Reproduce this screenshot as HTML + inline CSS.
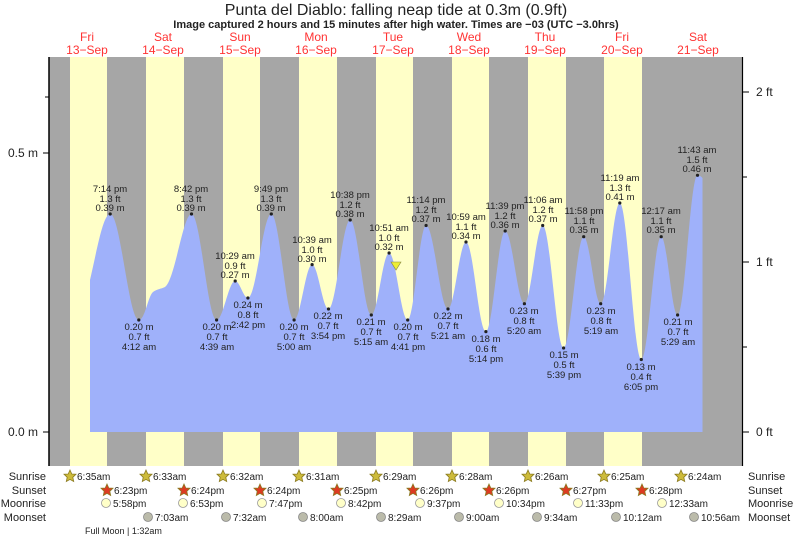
<!DOCTYPE html>
<html><head><meta charset="utf-8"><style>
body{margin:0;background:#fff;}
svg{display:block;font-family:"Liberation Sans",sans-serif;}
</style></head><body>
<svg width="793" height="539" viewBox="0 0 793 539" xmlns="http://www.w3.org/2000/svg">
<text x="396" y="15" font-size="16" text-anchor="middle" fill="#222">Punta del Diablo: falling  neap tide at 0.3m (0.9ft)</text>
<text x="396" y="28" font-size="11" font-weight="bold" text-anchor="middle" fill="#222">Image captured 2 hours and 15 minutes after high water. Times are −03 (UTC −3.0hrs)</text>
<g fill="#f33" font-size="12" text-anchor="middle">
<text x="87" y="41">Fri</text><text x="87" y="54">13−Sep</text>
<text x="163" y="41">Sat</text><text x="163" y="54">14−Sep</text>
<text x="240" y="41">Sun</text><text x="240" y="54">15−Sep</text>
<text x="316" y="41">Mon</text><text x="316" y="54">16−Sep</text>
<text x="393" y="41">Tue</text><text x="393" y="54">17−Sep</text>
<text x="469" y="41">Wed</text><text x="469" y="54">18−Sep</text>
<text x="545" y="41">Thu</text><text x="545" y="54">19−Sep</text>
<text x="622" y="41">Fri</text><text x="622" y="54">20−Sep</text>
<text x="698" y="41">Sat</text><text x="698" y="54">21−Sep</text>
</g>
<rect x="49" y="57" width="693" height="409" fill="#a6a6a6"/>
<g fill="#ffffc8">
<rect x="70" y="57" width="37" height="409"/>
<rect x="146" y="57" width="38" height="409"/>
<rect x="223" y="57" width="37" height="409"/>
<rect x="299" y="57" width="38" height="409"/>
<rect x="376" y="57" width="37" height="409"/>
<rect x="452" y="57" width="37" height="409"/>
<rect x="528" y="57" width="38" height="409"/>
<rect x="604" y="57" width="38" height="409"/>
</g>
<path fill="#9fb1fa" d="M90,432 L90,280 C97,250 103,214 110.2,214 C120.5,214 128.5,320 138.8,320 C145,320 148,296 153,292 C157,289 161,289 165,287 C175,280 183,214 191.5,214 C200.5,214 207.6,320 216.6,320 C223.3,320 228.5,281 235.2,281 C239.8,281 243.3,298 247.9,298 C256.3,298 262.9,214 271.3,214 C279.5,214 285.9,320 294.1,320 C300.6,320 305.6,264.6 312.1,264.6 C318,264.6 322.6,309 328.5,309 C336.3,309 342.4,220 350.2,220 C357.8,220 363.7,315 371.3,315 C377.7,315 382.7,253 389.1,253 C395.8,253 401,320 407.7,320 C414.3,320 419.5,225.5 426.1,225.5 C434,225.5 440.1,309 448,309 C454.5,309 459.5,242 466,242 C473.2,242 478.7,331.6 485.9,331.6 C492.8,331.6 498.3,231 505.2,231 C512.1,231 517.5,303.7 524.4,303.7 C531,303.7 536.1,225.5 542.7,225.5 C550.2,225.5 556.1,348 563.6,348 C570.8,348 576.5,236.7 583.7,236.7 C589.8,236.7 594.6,303.7 600.7,303.7 C607.6,303.7 612.9,203 619.8,203 C627.5,203 633.6,359.5 641.3,359.5 C648.5,359.5 654,236.7 661.2,236.7 C667.1,236.7 671.7,315 677.6,315 C684.8,315 690.3,175.3 697.5,175.3 C699.5,175.3 701,176.5 702.5,178 L702.5,432 Z"/>
<polygon points="391,262 401,262 396,270" fill="#ee3" stroke="#884" stroke-width="0.6"/>
<line x1="49" y1="57" x2="49" y2="466" stroke="#000" stroke-width="1.5"/>
<line x1="742.5" y1="57" x2="742.5" y2="466" stroke="#000" stroke-width="1.2"/>
<g stroke="#000"><line x1="43" y1="432" x2="49" y2="432"/><line x1="43" y1="153" x2="49" y2="153"/><line x1="45" y1="97" x2="49" y2="97"/>
<line x1="742" y1="432" x2="749" y2="432"/><line x1="742" y1="262" x2="749" y2="262"/><line x1="742" y1="92" x2="749" y2="92"/><line x1="742" y1="347" x2="747" y2="347"/><line x1="742" y1="177" x2="747" y2="177"/></g>
<g font-size="12" fill="#222"><text x="38" y="436" text-anchor="end">0.0 m</text><text x="38" y="157" text-anchor="end">0.5 m</text>
<text x="756" y="436">0 ft</text><text x="756" y="266">1 ft</text><text x="756" y="96">2 ft</text></g>
<g font-size="9.5" fill="#222" text-anchor="middle">
<g><text x="110" y="192">7:14 pm</text><text x="110" y="202">1.3 ft</text><text x="110" y="211">0.39 m</text><circle cx="110.2" cy="214" r="1.6"/></g>
<g><text x="191" y="192">8:42 pm</text><text x="191" y="202">1.3 ft</text><text x="191" y="211">0.39 m</text><circle cx="191.5" cy="214" r="1.6"/></g>
<g><text x="235" y="259">10:29 am</text><text x="235" y="269">0.9 ft</text><text x="235" y="278">0.27 m</text><circle cx="235.2" cy="281" r="1.6"/></g>
<g><text x="271" y="192">9:49 pm</text><text x="271" y="202">1.3 ft</text><text x="271" y="211">0.39 m</text><circle cx="271.3" cy="214" r="1.6"/></g>
<g><text x="312" y="243">10:39 am</text><text x="312" y="253">1.0 ft</text><text x="312" y="262">0.30 m</text><circle cx="312.1" cy="264.6" r="1.6"/></g>
<g><text x="350" y="198">10:38 pm</text><text x="350" y="208">1.2 ft</text><text x="350" y="217">0.38 m</text><circle cx="350.2" cy="220" r="1.6"/></g>
<g><text x="389" y="231">10:51 am</text><text x="389" y="241">1.0 ft</text><text x="389" y="250">0.32 m</text><circle cx="389.1" cy="253" r="1.6"/></g>
<g><text x="426" y="203">11:14 pm</text><text x="426" y="213">1.2 ft</text><text x="426" y="222">0.37 m</text><circle cx="426.1" cy="225.5" r="1.6"/></g>
<g><text x="466" y="220">10:59 am</text><text x="466" y="230">1.1 ft</text><text x="466" y="239">0.34 m</text><circle cx="466" cy="242" r="1.6"/></g>
<g><text x="505" y="209">11:39 pm</text><text x="505" y="219">1.2 ft</text><text x="505" y="228">0.36 m</text><circle cx="505.2" cy="231" r="1.6"/></g>
<g><text x="543" y="203">11:06 am</text><text x="543" y="213">1.2 ft</text><text x="543" y="222">0.37 m</text><circle cx="542.7" cy="225.5" r="1.6"/></g>
<g><text x="584" y="214">11:58 pm</text><text x="584" y="224">1.1 ft</text><text x="584" y="233">0.35 m</text><circle cx="583.7" cy="236.7" r="1.6"/></g>
<g><text x="620" y="181">11:19 am</text><text x="620" y="191">1.3 ft</text><text x="620" y="200">0.41 m</text><circle cx="619.8" cy="203" r="1.6"/></g>
<g><text x="661" y="214">12:17 am</text><text x="661" y="224">1.1 ft</text><text x="661" y="233">0.35 m</text><circle cx="661.2" cy="236.7" r="1.6"/></g>
<g><text x="697" y="153">11:43 am</text><text x="697" y="163">1.5 ft</text><text x="697" y="172">0.46 m</text><circle cx="697.5" cy="175.3" r="1.6"/></g>
<g><circle cx="138.8" cy="320" r="1.6"/><text x="139" y="330">0.20 m</text><text x="139" y="340">0.7 ft</text><text x="139" y="350">4:12 am</text></g>
<g><circle cx="216.6" cy="320" r="1.6"/><text x="217" y="330">0.20 m</text><text x="217" y="340">0.7 ft</text><text x="217" y="350">4:39 am</text></g>
<g><circle cx="247.9" cy="298" r="1.6"/><text x="248" y="308">0.24 m</text><text x="248" y="318">0.8 ft</text><text x="248" y="328">2:42 pm</text></g>
<g><circle cx="294.1" cy="320" r="1.6"/><text x="294" y="330">0.20 m</text><text x="294" y="340">0.7 ft</text><text x="294" y="350">5:00 am</text></g>
<g><circle cx="328.5" cy="309" r="1.6"/><text x="328" y="319">0.22 m</text><text x="328" y="329">0.7 ft</text><text x="328" y="339">3:54 pm</text></g>
<g><circle cx="371.3" cy="315" r="1.6"/><text x="371" y="325">0.21 m</text><text x="371" y="335">0.7 ft</text><text x="371" y="345">5:15 am</text></g>
<g><circle cx="407.7" cy="320" r="1.6"/><text x="408" y="330">0.20 m</text><text x="408" y="340">0.7 ft</text><text x="408" y="350">4:41 pm</text></g>
<g><circle cx="448" cy="309" r="1.6"/><text x="448" y="319">0.22 m</text><text x="448" y="329">0.7 ft</text><text x="448" y="339">5:21 am</text></g>
<g><circle cx="485.9" cy="331.6" r="1.6"/><text x="486" y="342">0.18 m</text><text x="486" y="352">0.6 ft</text><text x="486" y="362">5:14 pm</text></g>
<g><circle cx="524.4" cy="303.7" r="1.6"/><text x="524" y="314">0.23 m</text><text x="524" y="324">0.8 ft</text><text x="524" y="334">5:20 am</text></g>
<g><circle cx="563.6" cy="348" r="1.6"/><text x="564" y="358">0.15 m</text><text x="564" y="368">0.5 ft</text><text x="564" y="378">5:39 pm</text></g>
<g><circle cx="600.7" cy="303.7" r="1.6"/><text x="601" y="314">0.23 m</text><text x="601" y="324">0.8 ft</text><text x="601" y="334">5:19 am</text></g>
<g><circle cx="641.3" cy="359.5" r="1.6"/><text x="641" y="370">0.13 m</text><text x="641" y="380">0.4 ft</text><text x="641" y="390">6:05 pm</text></g>
<g><circle cx="677.6" cy="315" r="1.6"/><text x="678" y="325">0.21 m</text><text x="678" y="335">0.7 ft</text><text x="678" y="345">5:29 am</text></g>
</g>
<g font-size="11" fill="#222">
<g text-anchor="end"><text x="46" y="480">Sunrise</text><text x="46" y="494">Sunset</text><text x="46" y="507">Moonrise</text><text x="46" y="521">Moonset</text></g>
<text x="748" y="480">Sunrise</text><text x="748" y="494">Sunset</text><text x="748" y="507">Moonrise</text><text x="748" y="521">Moonset</text>
</g>
<defs>
<polygon id="st" points="0,-6 1.8,-2 6,-1.8 2.8,1.3 3.7,5.5 0,3.4 -3.7,5.5 -2.8,1.3 -6,-1.8 -1.8,-2"/>
</defs>
<g font-size="10" fill="#222">
<g fill="#cdbb3a" stroke="#8a7a20" stroke-width="0.8">
<use href="#st" x="70" y="476"/><use href="#st" x="146" y="476"/><use href="#st" x="223" y="476"/><use href="#st" x="299" y="476"/><use href="#st" x="376" y="476"/><use href="#st" x="452" y="476"/><use href="#st" x="528" y="476"/><use href="#st" x="604" y="476"/><use href="#st" x="681" y="476"/>
</g>
<g fill="#dd3a22" stroke="#8a7a20" stroke-width="0.8">
<use href="#st" x="107" y="490"/><use href="#st" x="184" y="490"/><use href="#st" x="260" y="490"/><use href="#st" x="337" y="490"/><use href="#st" x="413" y="490"/><use href="#st" x="489" y="490"/><use href="#st" x="566" y="490"/><use href="#st" x="642" y="490"/>
</g>
<text x="77" y="480">6:35am</text><text x="153" y="480">6:33am</text><text x="230" y="480">6:32am</text><text x="306" y="480">6:31am</text><text x="383" y="480">6:29am</text><text x="459" y="480">6:28am</text><text x="535" y="480">6:26am</text><text x="611" y="480">6:25am</text><text x="688" y="480">6:24am</text>
<text x="114" y="494">6:23pm</text><text x="191" y="494">6:24pm</text><text x="267" y="494">6:24pm</text><text x="344" y="494">6:25pm</text><text x="420" y="494">6:26pm</text><text x="496" y="494">6:26pm</text><text x="573" y="494">6:27pm</text><text x="649" y="494">6:28pm</text>
<g fill="#ffffc8" stroke="#999" stroke-width="0.8">
<circle cx="106" cy="503" r="4.5"/><circle cx="183" cy="503" r="4.5"/><circle cx="262" cy="503" r="4.5"/><circle cx="341" cy="503" r="4.5"/><circle cx="420" cy="503" r="4.5"/><circle cx="499" cy="503" r="4.5"/><circle cx="578" cy="503" r="4.5"/><circle cx="662" cy="503" r="4.5"/>
</g>
<text x="113" y="507">5:58pm</text><text x="190" y="507">6:53pm</text><text x="269" y="507">7:47pm</text><text x="348" y="507">8:42pm</text><text x="427" y="507">9:37pm</text><text x="506" y="507">10:34pm</text><text x="585" y="507">11:33pm</text><text x="669" y="507">12:33am</text>
<g fill="#bbbbaa" stroke="#888" stroke-width="0.8">
<circle cx="148" cy="517" r="4.5"/><circle cx="226" cy="517" r="4.5"/><circle cx="303" cy="517" r="4.5"/><circle cx="381" cy="517" r="4.5"/><circle cx="459" cy="517" r="4.5"/><circle cx="537" cy="517" r="4.5"/><circle cx="616" cy="517" r="4.5"/><circle cx="694" cy="517" r="4.5"/>
</g>
<text x="155" y="521">7:03am</text><text x="233" y="521">7:32am</text><text x="310" y="521">8:00am</text><text x="388" y="521">8:29am</text><text x="466" y="521">9:00am</text><text x="544" y="521">9:34am</text><text x="623" y="521">10:12am</text><text x="701" y="521">10:56am</text>
<text x="85" y="534" font-size="9">Full Moon | 1:32am</text>
</g>
</svg>
</body></html>
